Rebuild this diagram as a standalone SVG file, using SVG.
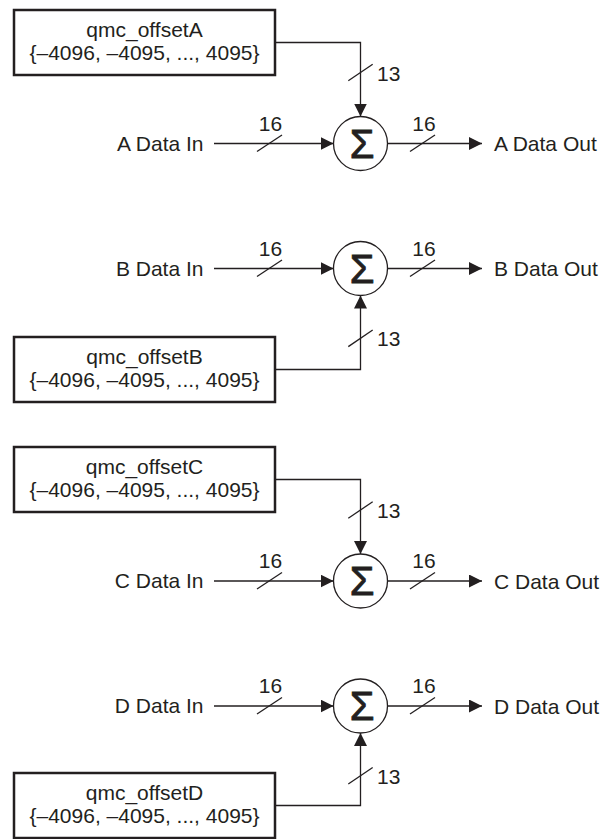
<svg xmlns="http://www.w3.org/2000/svg" width="602" height="839" viewBox="0 0 602 839">
<defs>
<style>
.box{fill:#fff;stroke:#231f20;stroke-width:2.5}
.sum{fill:#fff;stroke:#231f20;stroke-width:1.3}
.ln{fill:none;stroke:#231f20;stroke-width:1.3}
.arr{fill:none;stroke:#231f20;stroke-width:1.3;marker-end:url(#ah)}
text{font-family:"Liberation Sans",Arial,sans-serif;font-size:21px;fill:#231f20}
.c{text-anchor:middle}
.e{text-anchor:end}
.sig{font-size:40px;text-anchor:middle;stroke:#231f20;stroke-width:0.8}
</style>
<marker id="ah" markerUnits="userSpaceOnUse" markerWidth="13" markerHeight="13" refX="13" refY="6.5" orient="auto" viewBox="0 0 13 13">
<path d="M0,0 L13,6.5 L0,13 z" fill="#231f20"/>
</marker>
</defs>
<rect width="602" height="839" fill="#fff"/>

<g id="connectors">
<!-- A -->
<path class="arr" d="M276,42.5 H360.5 V116.5"/>
<path class="ln" d="M348.3,80.8 L372.7,64.2"/>
<text x="377" y="80.5">13</text>
<path class="arr" d="M214,143.5 H333.5"/>
<path class="ln" d="M257,151.5 L282,135"/>
<text class="c" x="270.5" y="130.5">16</text>
<path class="arr" d="M387.5,143.5 H482"/>
<path class="ln" d="M410,151.5 L435,135"/>
<text class="c" x="424" y="130.5">16</text>
<!-- B -->
<path class="arr" d="M276,369.5 H360.5 V295.5"/>
<path class="ln" d="M348.3,346.6 L372.7,330"/>
<text x="377" y="346">13</text>
<path class="arr" d="M214,268.5 H333.5"/>
<path class="ln" d="M257,276.5 L282,260"/>
<text class="c" x="270.5" y="255.5">16</text>
<path class="arr" d="M387.5,268.5 H482"/>
<path class="ln" d="M410,276.5 L435,260"/>
<text class="c" x="424" y="255.5">16</text>
<!-- C -->
<path class="arr" d="M276,479.5 H360.5 V554"/>
<path class="ln" d="M348.3,518.3 L372.7,501.7"/>
<text x="377" y="517.5">13</text>
<path class="arr" d="M214,581 H333.5"/>
<path class="ln" d="M257,589 L282,572.5"/>
<text class="c" x="270.5" y="568">16</text>
<path class="arr" d="M387.5,581 H482"/>
<path class="ln" d="M410,589 L435,572.5"/>
<text class="c" x="424" y="568">16</text>
<!-- D -->
<path class="arr" d="M276,805.5 H360.5 V733"/>
<path class="ln" d="M348.3,784 L372.7,767.5"/>
<text x="377" y="783.5">13</text>
<path class="arr" d="M214,706 H333.5"/>
<path class="ln" d="M257,714 L282,697.5"/>
<text class="c" x="270.5" y="693">16</text>
<path class="arr" d="M387.5,706 H482"/>
<path class="ln" d="M410,714 L435,697.5"/>
<text class="c" x="424" y="693">16</text>
</g>

<g id="offsetA">
<rect class="box" x="14" y="10" width="261" height="65"/>
<text class="c" x="144.5" y="37">qmc_offsetA</text>
<text class="c" x="144.5" y="60">{–4096, –4095, ..., 4095}</text>
</g>
<g id="sumA">
<circle class="sum" cx="360.5" cy="143.5" r="27"/>
<text class="sig" x="362" y="157.5">Σ</text>
</g>
<g id="inA"><text class="e" x="203.5" y="150.5">A Data In</text></g>
<g id="outA"><text x="494" y="151">A Data Out</text></g>

<g id="offsetB">
<rect class="box" x="14" y="337" width="261" height="65"/>
<text class="c" x="144.5" y="363.5">qmc_offsetB</text>
<text class="c" x="144.5" y="387">{–4096, –4095, ..., 4095}</text>
</g>
<g id="sumB">
<circle class="sum" cx="360.5" cy="268.5" r="27"/>
<text class="sig" x="362" y="282.5">Σ</text>
</g>
<g id="inB"><text class="e" x="203.5" y="275.5">B Data In</text></g>
<g id="outB"><text x="494" y="276">B Data Out</text></g>

<g id="offsetC">
<rect class="box" x="14" y="447" width="261" height="65"/>
<text class="c" x="144.5" y="474">qmc_offsetC</text>
<text class="c" x="144.5" y="497">{–4096, –4095, ..., 4095}</text>
</g>
<g id="sumC">
<circle class="sum" cx="360.5" cy="581" r="27"/>
<text class="sig" x="362" y="595">Σ</text>
</g>
<g id="inC"><text class="e" x="203.5" y="588">C Data In</text></g>
<g id="outC"><text x="494" y="588.5">C Data Out</text></g>

<g id="offsetD">
<rect class="box" x="14" y="773" width="261" height="65"/>
<text class="c" x="144.5" y="800">qmc_offsetD</text>
<text class="c" x="144.5" y="823">{–4096, –4095, ..., 4095}</text>
</g>
<g id="sumD">
<circle class="sum" cx="360.5" cy="706" r="27"/>
<text class="sig" x="362" y="720">Σ</text>
</g>
<g id="inD"><text class="e" x="203.5" y="713">D Data In</text></g>
<g id="outD"><text x="494" y="713.5">D Data Out</text></g>
</svg>
